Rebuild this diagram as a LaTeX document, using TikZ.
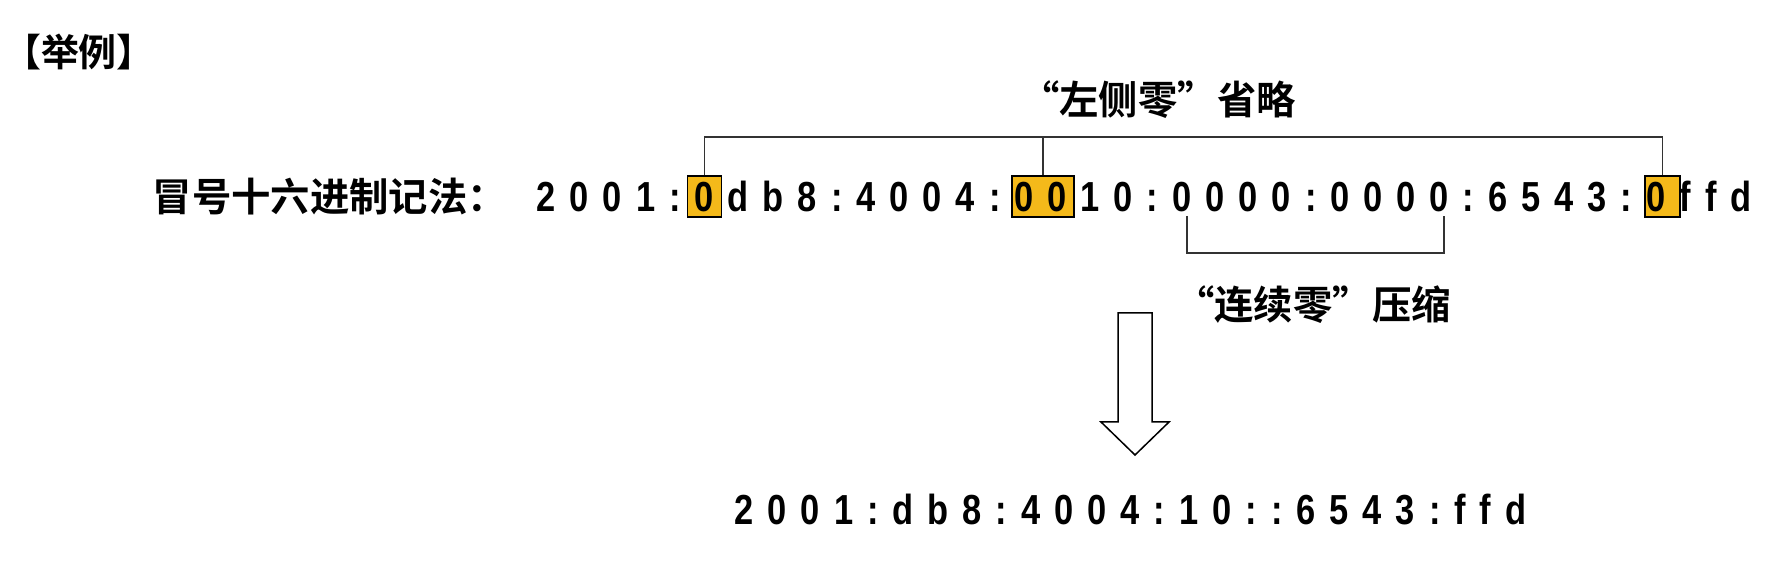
\documentclass[tikz,border=0pt]{standalone}
\usepackage{fontspec}
\newfontfamily\cjkfont{Noto Sans CJK SC Bold}[RawFeature=+fwid]
\newfontfamily\addrfont{Liberation Sans Bold}[FakeStretch=0.82, LetterSpace=33.3]
\definecolor{zeroorange}{RGB}{244,185,26}
\tikzset{
  cjk/.style={font=\cjkfont\fontsize{11.2pt}{13pt}\selectfont, inner sep=0pt},
  addr/.style={font=\addrfont\fontsize{11.95pt}{14pt}\selectfont, inner sep=0pt, anchor=base west},
  zerobox/.style={draw=black, line width=0.55pt, fill=zeroorange, minimum height=0.41cm, inner sep=0pt},
  bracket/.style={draw=black!80, line width=0.4pt}
}
\begin{document}
\begin{tikzpicture}
        \useasboundingbox (0,0) rectangle (17.82,5.78);

        \node[cjk, font=\cjkfont\fontsize{10.8pt}{13pt}\selectfont] (example) at (0.79,5.255) {【举例】};
        \node[cjk, anchor=west] (colonlabel) at (1.52,3.815) {冒号十六进制记法：};

        \node[zerobox, minimum width=0.34cm] (zeroa) at (7.045,3.815) {}; % 0db8
        \node[zerobox, minimum width=0.62cm] (zerob) at (10.43,3.815) {}; % 0010
        \node[zerobox, minimum width=0.35cm] (zeroc) at (16.625,3.815) {}; % 0ffd

        \node[addr] (full) at (5.36,3.66) {2001:0db8:4004:0010:0000:0000:6543:0ffd};

        % leading zeros
        \coordinate (omittop) at (0,4.41);
        \draw[bracket] (zeroa.north) |- (omittop -| zeroc.north) -- (zeroc.north);
        \draw[bracket] (zerob.north) -- (zerob.north |- omittop);
        \node[cjk] (omitlabel) at (11.58,4.78) {“左侧零”省略};

        % zero run
        \coordinate (runa) at (11.87,3.62);
        \coordinate (runb) at (14.44,3.62);
        \draw[bracket] (runa) -- ++(0,-0.37) -| (runb);
        \node[cjk] (complabel) at (13.13,2.73) {“连续零”压缩};

        \draw[line width=0.43pt] (11.18,2.65) -- (11.52,2.65) -- (11.52,1.56) -- (11.69,1.56)
              -- (11.35,1.23) -- (11.01,1.56) -- (11.18,1.56) -- cycle;

        \node[addr] (short) at (7.34,0.53) {2001:db8:4004:10::6543:ffd};
\end{tikzpicture}
\end{document}
